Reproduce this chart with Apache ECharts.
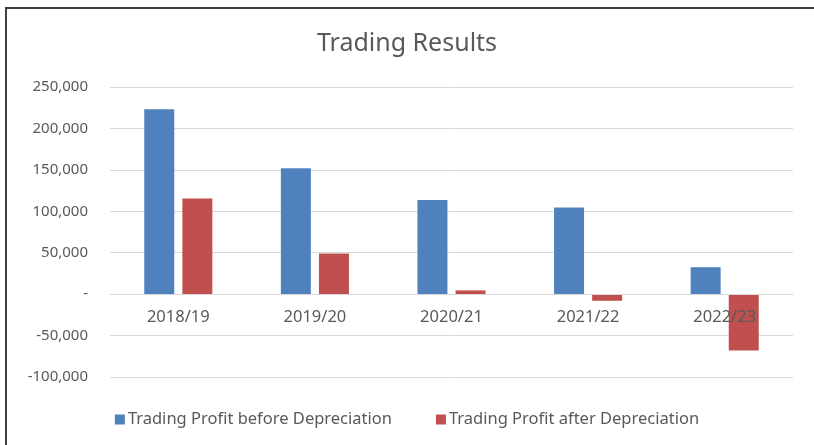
<!DOCTYPE html>
<html>
<head>
<meta charset="utf-8">
<script src="https://cdn.jsdelivr.net/npm/echarts@6/dist/echarts.min.js"></script>
<style>
  html, body { margin: 0; padding: 0; background: #fff; }
  #frame { position: absolute; left: 5px; top: 7px; width: 809px; height: 438px;
           border-left: 2px solid #3f3f3f; border-top: 2px solid #3f3f3f; box-sizing: border-box; }
  #chart { position: absolute; left: 0; top: 0; width: 814px; height: 445px; }
</style>
</head>
<body>
<div id="frame"></div>
<div id="chart"></div>
<script>
const years = ['2018/19', '2019/20', '2020/21', '2021/22', '2022/23'];
const beforeDep = [223000, 152000, 113500, 104500, 32500];
const afterDep = [115500, 49000, 4500, -8000, -68000];
const seriesNames = ['Trading Profit before Depreciation', 'Trading Profit after Depreciation'];

const font = 'Noto Sans';
const grey = '#595959';
const chart = echarts.init(document.getElementById('chart'));
chart.setOption({
  animation: false,
  title: {
    text: 'Trading Results',
    left: 'center',
    top: 26,
    textStyle: { fontFamily: font, fontSize: 25, fontWeight: 'normal', color: grey }
  },
  legend: {
    bottom: 12,
    left: 'center',
    itemWidth: 10,
    itemHeight: 10,
    itemGap: 44,
    icon: 'rect',
    textStyle: { fontFamily: font, fontSize: 16.5, color: grey, padding: [0, 0, 0, -2] },
    data: seriesNames
  },
  grid: { left: 110, right: 21, top: 87, bottom: 68 },
  xAxis: {
    type: 'category',
    data: years,
    offset: -83,
    z: 10,
    axisLine: { onZero: false, lineStyle: { color: '#d9d9d9' } },
    axisTick: { show: false },
    axisLabel: { fontFamily: font, fontSize: 16.5, color: grey, margin: 15 }
  },
  yAxis: {
    type: 'value',
    min: -100000,
    max: 250000,
    interval: 50000,
    axisLine: { show: false },
    axisTick: { show: false },
    splitLine: { lineStyle: { color: '#d9d9d9', width: 1 } },
    axisLabel: {
      fontFamily: font, fontSize: 15, color: grey, margin: 22,
      formatter: v => v === 0 ? '-' : v.toLocaleString('en-US')
    }
  },
  series: [
    { name: seriesNames[0], type: 'bar', data: beforeDep, barWidth: 30, barGap: '27%',
      itemStyle: { color: '#4f81bd' } },
    { name: seriesNames[1], type: 'bar', data: afterDep, barWidth: 30, barGap: '27%',
      itemStyle: { color: '#c0504d' } }
  ]
});
</script>
</body>
</html>
